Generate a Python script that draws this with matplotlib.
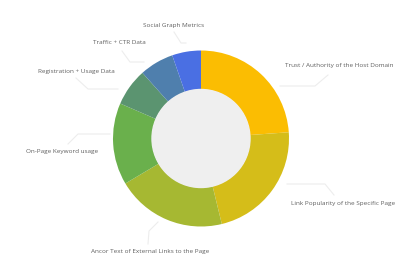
import matplotlib.pyplot as plt
from matplotlib.patches import Circle

labels = ['Trust / Authority of the Host Domain',
          'Link Popularity of the Specific Page',
          'Ancor Text of External Links to the Page',
          'On-Page Keyword usage',
          'Registration + Usage Data',
          'Traffic + CTR Data',
          'Social Graph Metrics']
values = [23.87, 22.33, 20.26, 15.04, 6.91, 6.29, 5.30]
colors = ['#fbbd02', '#d5bd19', '#a6b832', '#6ab04c', '#5b9470', '#4f7fad', '#4a6fe3']

# label text position (pixels, top-left origin) and leader line path
label_layout = [
    ((339, 66), [(328, 75), (315, 86), (280, 86)]),
    ((343, 203), [(334, 195), (325, 184), (287, 184)]),
    ((150, 252), [(148, 244), (149, 231), (158, 222)]),
    ((62, 152), [(68, 144), (78, 134), (110, 134)]),
    ((76, 71), [(76, 78), (88, 89), (118, 89)]),
    ((119, 43), [(122, 51), (130, 62), (144, 62)]),
    ((174, 25), [(174, 32), (181, 43), (186, 43)]),
]

H = 278
fig = plt.figure(figsize=(4.2, 2.78), dpi=100)
ax = fig.add_axes([0, 0, 1, 1])

cx, cy, r = 201, H - 138.5, 88
ax.pie(values, colors=colors, startangle=90, counterclock=False,
       center=(cx, cy), radius=r,
       wedgeprops=dict(width=r - 49, linewidth=0))
ax.add_patch(Circle((cx, cy), 49, color='#efefef', zorder=3))

for lab, ((tx, ty), path) in zip(labels, label_layout):
    ax.text(tx, H - ty, lab, ha='center', va='center', fontsize=4.6,
            family='Open Sans', color='#606060')
    ax.plot([p[0] for p in path], [H - p[1] for p in path],
            color='#ededed', lw=0.8)

ax.set_xlim(0, 420)
ax.set_ylim(0, H)
ax.set_aspect('equal')
ax.axis('off')
fig.savefig('out.png', dpi=100, facecolor='white')
